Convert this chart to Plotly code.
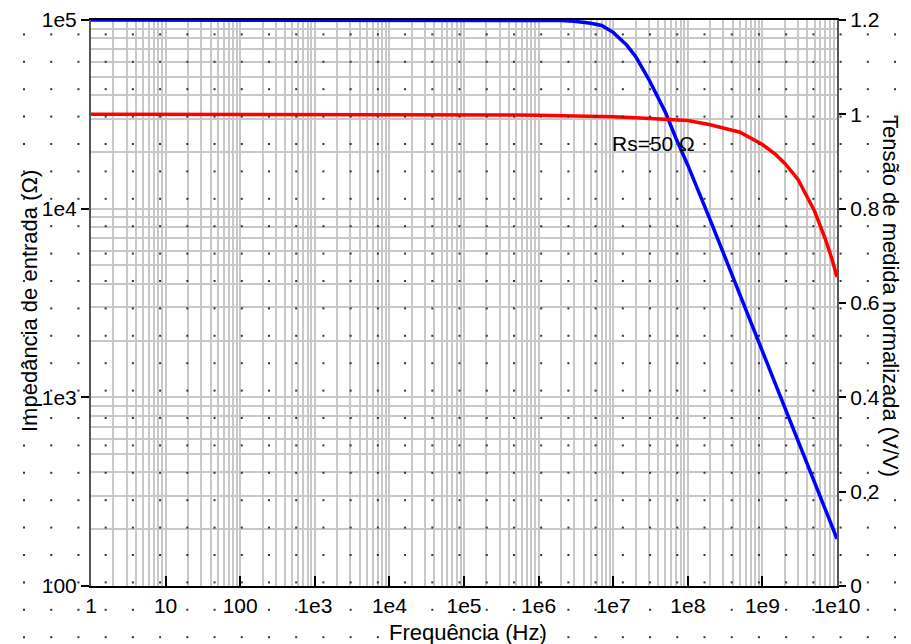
import numpy as np
import plotly.graph_objects as go

# ---- data ----
freq_z = [1, 1e6, 2e6, 3e6, 5e6, 7e6, 1e7, 1.5e7, 2e7, 3e7, 5e7, 7e7, 1e8,
          2e8, 5e8, 1e9, 2e9, 5e9, 1e10]
impedance = [100000, 99900, 99300, 98500, 96100, 93500, 86000, 74000, 64000,
             48500, 32500, 23400, 17000, 8700, 3500, 1750, 870, 350, 178]

freq_v = [1, 5e5, 5.3e5, 1e6, 5e6, 1e7, 2e7, 5e7, 1e8, 2e8, 5e8, 1e9, 1.5e9,
          2e9, 3e9, 5e9, 7e9, 8.5e9, 1e10]
voltage = [1.000, 1.000, 0.9986, 0.998, 0.997, 0.995, 0.993, 0.990, 0.987,
           0.978, 0.962, 0.936, 0.915, 0.896, 0.862, 0.795, 0.735, 0.695, 0.655]

x_tickvals = [1, 10, 100, 1e3, 1e4, 1e5, 1e6, 1e7, 1e8, 1e9, 1e10]
x_ticktext = ["1", "10", "100", "1e3", "1e4", "1e5", "1e6", "1e7", "1e8", "1e9", "1e10"]
y_tickvals = [100, 1e3, 1e4, 1e5]
y_ticktext = ["100", "1e3", "1e4", "1e5"]
y2_tickvals = [0, 0.2, 0.4, 0.6, 0.8, 1.0, 1.2]
y2_ticktext = ["0", "0.2", "0.4", "0.6", "0.8", "1", "1.2"]

W, H = 911, 644
OFF = 8                      # page body margin
FW, FH = W - OFF, H - OFF    # figure size so it fits in the window
L, R, T, B = 91, 837, 20, 586  # plot area in window pixels
FONT = "Liberation Sans, Arial, sans-serif"
GRID = "#c8c8c8"


def px(x):
    return (x - OFF) / FW


def py(y):
    return 1 - (y - OFF) / FH


fig = go.Figure()

fig.add_trace(go.Scatter(x=freq_z, y=impedance, mode="lines",
                         line=dict(color="#0000ff", width=3.5),
                         xaxis="x", yaxis="y", showlegend=False))
fig.add_trace(go.Scatter(x=freq_v, y=voltage, mode="lines",
                         line=dict(color="#ff0000", width=3.5),
                         xaxis="x", yaxis="y2", showlegend=False))

# schematic background dot grid (window pixel coordinates)
gx = np.arange(24, W, 27.22)
gy = np.arange(7, H, 27.4)
DX, DY = np.meshgrid(gx, gy)
fig.add_trace(go.Scatter(x=DX.ravel() - OFF, y=DY.ravel() - OFF, mode="markers",
                         marker=dict(symbol="square", size=2, color="#333333"),
                         xaxis="x3", yaxis="y3", showlegend=False,
                         hoverinfo="skip"))

tickfont = dict(family=FONT, size=21, color="black")

fig.update_layout(
    width=FW, height=FH,
    margin=dict(l=0, r=0, t=0, b=0),
    paper_bgcolor="white", plot_bgcolor="rgba(0,0,0,0)",
    xaxis=dict(type="log", range=[0, 10], domain=[px(L), px(R)],
               tickvals=x_tickvals, ticktext=x_ticktext, automargin=False,
               ticks="inside", ticklen=10, tickcolor="black", tickwidth=1.5,
               showline=True, linecolor="black", linewidth=2, mirror=True,
               showgrid=True, gridcolor=GRID, gridwidth=1.5,
               minor=dict(dtick="D1", showgrid=True, gridcolor=GRID, gridwidth=1.5),
               tickfont=tickfont, anchor="y", zeroline=False),
    yaxis=dict(type="log", range=[2, 5], domain=[py(B), py(T)],
               tickvals=y_tickvals, ticktext=y_ticktext, automargin=False,
               ticks="outside", ticklen=8, tickcolor="black", tickwidth=1.5,
               showline=True, linecolor="#555555", linewidth=2,
               showgrid=True, gridcolor=GRID, gridwidth=1.5,
               minor=dict(dtick="D1", showgrid=True, gridcolor=GRID, gridwidth=1.5),
               tickfont=tickfont, anchor="x", zeroline=False),
    yaxis2=dict(range=[0, 1.2], overlaying="y", side="right", anchor="x",
                tickvals=y2_tickvals, ticktext=y2_ticktext, automargin=False,
                ticks="outside", ticklen=7, tickcolor="black", tickwidth=1.5,
                showline=True, linecolor="#555555", linewidth=2,
                showgrid=False, zeroline=False, tickfont=tickfont),
    xaxis3=dict(domain=[0, 1], range=[0, FW], visible=False, anchor="y3",
                fixedrange=True, automargin=False),
    yaxis3=dict(domain=[0, 1], range=[FH, 0], visible=False, anchor="x3",
                fixedrange=True, automargin=False),
    annotations=[
        dict(text="Frequência (Hz)", x=px(468), y=py(632), xref="paper",
             yref="paper", showarrow=False, xanchor="center", yanchor="middle",
             font=dict(family=FONT, size=22, color="black")),
        dict(text="Impedância de entrada (Ω)", x=px(29), y=py(301),
             xref="paper", yref="paper", showarrow=False, textangle=-90,
             xanchor="center", yanchor="middle",
             font=dict(family=FONT, size=22, color="black")),
        dict(text="Tensão de medida normalizada (V/V)", x=px(891), y=py(296),
             xref="paper", yref="paper", showarrow=False, textangle=90,
             xanchor="center", yanchor="middle",
             font=dict(family=FONT, size=22, color="black")),
        dict(text="Rs=50 Ω", x=px(610), y=py(143), xref="paper",
             yref="paper", showarrow=False, xanchor="left", yanchor="middle",
             font=dict(family=FONT, size=21, color="black")),
    ],
)

fig.write_html("out.html")
